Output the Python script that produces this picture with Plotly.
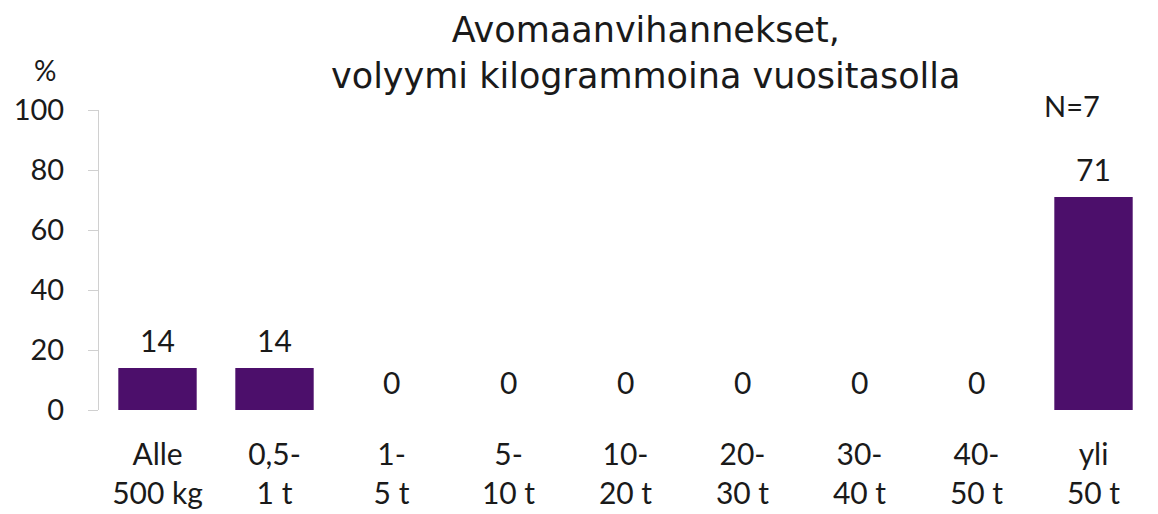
import plotly.graph_objects as go

categories = ["Alle<br>500 kg", "0,5-<br>1 t", "1-<br>5 t", "5-<br>10 t", "10-<br>20 t",
              "20-<br>30 t", "30-<br>40 t", "40-<br>50 t", "yli<br>50 t"]
values = [14, 14, 0, 0, 0, 0, 0, 0, 71]
y_ticks = [0, 20, 40, 60, 80, 100]
title_text = "Avomaanvihannekset,<br>volyymi kilogrammoina vuositasolla"
n_text = "N=7"
unit_text = "%"

FONT = "Lato"
TFONT = "DejaVu Sans"
TXT = "#1a1a1a"
BAR = "#4C0F6B"

# the page shows the figure offset by the body margin (8 px)
OFF = 8
W, H = 1158 - OFF, 514 - OFF
ML = 99 - OFF
MT = 110 - OFF
MR = W - (1152 - OFF)
MB = H - (410 - OFF)
PW = W - ML - MR
PH = H - MT - MB


def px(x):
    return (x - OFF - ML) / PW


def py(y):
    return (H - MB - (y - OFF)) / PH


fig = go.Figure(go.Bar(
    x=categories, y=values,
    marker=dict(color=BAR, line=dict(width=0)),
    hoverinfo="x+y",
))

annotations = [
    dict(x=c, y=v, xref="x", yref="y", text=str(v), showarrow=False,
         yanchor="bottom", yshift=8,
         font=dict(family=FONT, size=30, color=TXT))
    for c, v in zip(categories, values)
]
annotations += [
    dict(text=title_text, x=px(645), y=py(53), xref="paper", yref="paper",
         xanchor="center", yanchor="middle", showarrow=False,
         font=dict(family=TFONT, size=35, color=TXT)),
    dict(text=unit_text, x=px(45), y=py(70), xref="paper", yref="paper",
         xanchor="center", yanchor="middle", showarrow=False,
         font=dict(family=FONT, size=28, color=TXT)),
    dict(text=n_text, x=px(1072), y=py(105), xref="paper", yref="paper",
         xanchor="center", yanchor="middle", showarrow=False,
         font=dict(family=FONT, size=29, color=TXT)),
]

fig.update_layout(
    width=W, height=H,
    margin=dict(l=ML, r=MR, t=MT, b=MB, autoexpand=False),
    paper_bgcolor="white", plot_bgcolor="white",
    bargap=0.33,
    showlegend=False,
    font=dict(family=FONT, color=TXT),
    xaxis=dict(
        showline=False, ticks="outside", ticklen=18, tickcolor="rgba(0,0,0,0)",
        showgrid=False, automargin=False,
        tickfont=dict(family=FONT, size=30, color=TXT),
    ),
    yaxis=dict(
        range=[0, 100], tickvals=y_ticks, showgrid=False, zeroline=False,
        showline=True, linecolor="#d0d0d0", linewidth=1,
        ticks="outside", ticklen=10, tickcolor="#d0d0d0",
        ticklabelstandoff=18, automargin=False,
        tickfont=dict(family=FONT, size=29, color=TXT),
    ),
    annotations=annotations,
)

fig.write_html("out.html")
